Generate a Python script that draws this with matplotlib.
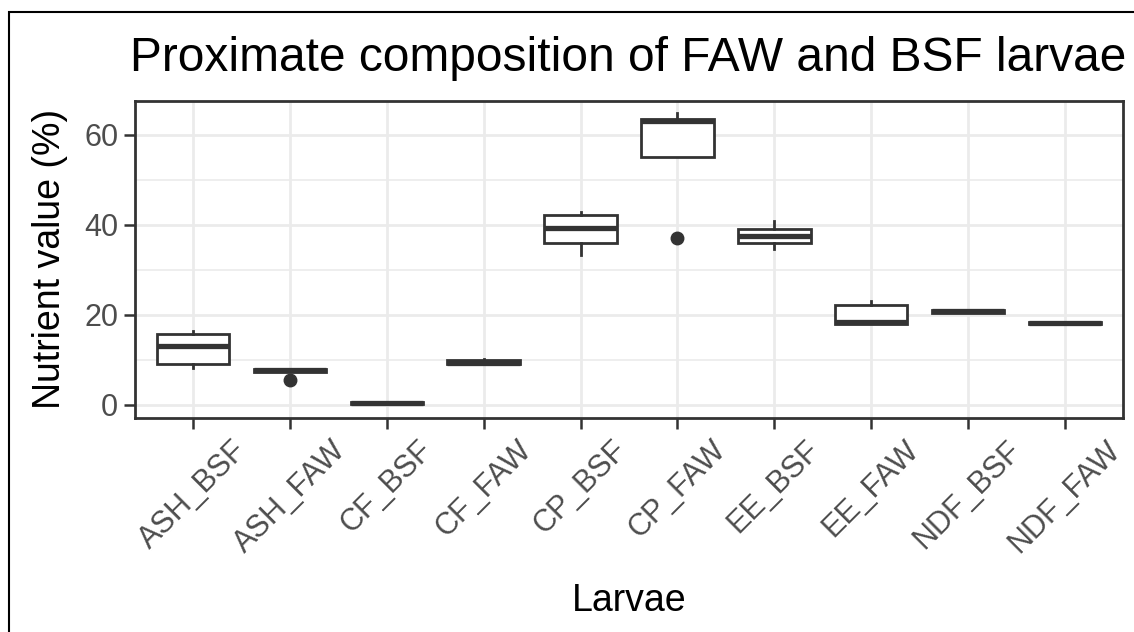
import matplotlib
matplotlib.use("Agg")
import matplotlib.pyplot as plt
from matplotlib.patches import Rectangle

plt.rcParams['font.family'] = ['Liberation Sans', 'DejaVu Sans']

# box statistics
groups = ["ASH_BSF", "ASH_FAW", "CF_BSF", "CF_FAW", "CP_BSF",
          "CP_FAW", "EE_BSF", "EE_FAW", "NDF_BSF", "NDF_FAW"]
q1 =     [9.0, 7.4, 0.2, 9.1, 35.9, 55.2, 35.9, 17.9, 20.5, 18.1]
median = [13.0, 7.7, 0.4, 9.4, 39.3, 63.0, 37.6, 18.5, 20.8, 18.3]
q3 =     [15.7, 7.9, 0.6, 10.1, 42.1, 63.6, 39.0, 22.2, 21.0, 18.5]
whislo = [8.3, 7.3, 0.2, 9.0, 33.3, 55.2, 34.7, 17.9, 20.5, 18.1]
whishi = [16.4, 7.9, 0.6, 10.2, 42.8, 64.8, 40.9, 23.0, 21.0, 18.5]
fliers = [[], [5.5], [], [], [], [37.2], [], [], [], []]

stats = []
for i in range(len(groups)):
    stats.append(dict(label=groups[i], q1=q1[i], med=median[i], q3=q3[i],
                      whislo=whislo[i], whishi=whishi[i], fliers=fliers[i]))

fig = plt.figure(figsize=(11.34, 6.32), dpi=100)
ax = fig.add_axes([135/1134, 1 - 418.3/632, (1123 - 135)/1134, (418.3 - 100.7)/632])

dark = "#333333"
ax.bxp(stats, positions=range(1, 11), widths=0.75, patch_artist=True,
       boxprops=dict(facecolor="white", edgecolor=dark, linewidth=2.0),
       medianprops=dict(color=dark, linewidth=3.8, solid_capstyle="butt"),
       whiskerprops=dict(color=dark, linewidth=2.0),
       capprops=dict(linewidth=0),
       flierprops=dict(marker="o", markerfacecolor=dark, markeredgecolor=dark,
                       markersize=9),
       zorder=3)

ax.set_xlim(0.4, 10.6)
ax.set_ylim(-2.96, 67.6)
ax.set_yticks([0, 20, 40, 60])
ax.set_yticks([10, 30, 50], minor=True)
ax.set_xticks(range(1, 11))
ax.set_xticklabels(groups, rotation=45, ha="center", va="top")

ax.grid(True, which="major", color="#EBEBEB", linewidth=2.0, zorder=0)
ax.grid(True, which="minor", axis="y", color="#EBEBEB", linewidth=1.2, zorder=0)
ax.set_axisbelow(True)
for s in ax.spines.values():
    s.set_color(dark)
    s.set_linewidth(2.0)
ax.tick_params(axis="both", which="major", length=8, width=1.8, color=dark,
               labelsize=22, labelcolor="#4D4D4D", pad=4)
ax.tick_params(axis="y", which="minor", length=0)

fig.text(50/1134, 1 - 259/632, "Nutrient value (%)", rotation=90,
         ha="center", va="center", fontsize=27)
fig.text(629/1134, 1 - 611/632, "Larvae", ha="center", va="baseline", fontsize=27)
fig.text(130/1134, 1 - 71/632, "Proximate composition of FAW and BSF larvae",
         ha="left", va="baseline", fontsize=34.5)

# frame of the screenshot
fig.patches.append(Rectangle((8.5/1134, -0.1), 1.2, 1 - 12/632 + 0.1,
                             transform=fig.transFigure, fill=False,
                             edgecolor="black", linewidth=1.5))

fig.savefig("out.png", dpi=100)
